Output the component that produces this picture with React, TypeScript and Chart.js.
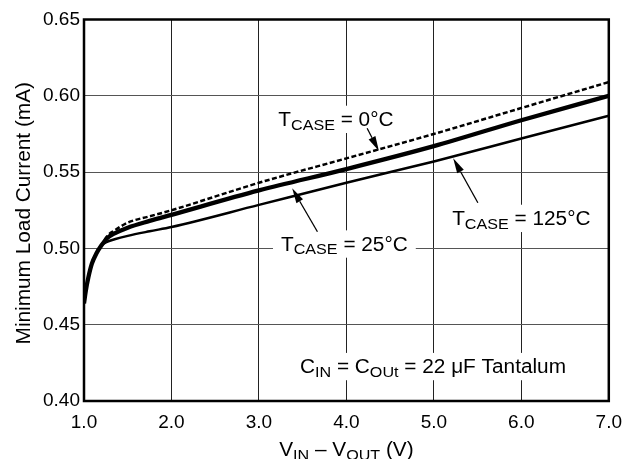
import React, { useEffect, useRef } from 'react';
import { Chart, registerables } from 'chart.js';

Chart.register(...registerables);

// ---- data ----
const xValues = [1.0, 1.02, 1.05, 1.09, 1.14, 1.2, 1.27, 1.35, 1.5, 1.75, 2.0, 3.0, 4.0, 5.0, 6.0, 7.0];
const tCase0 = [0.464, 0.472, 0.481, 0.49, 0.4965, 0.502, 0.5085, 0.5118, 0.5169, 0.521, 0.525, 0.543, 0.559, 0.575, 0.592, 0.609];
const tCase25 = [0.464, 0.472, 0.481, 0.49, 0.4965, 0.502, 0.507, 0.5098, 0.5136, 0.518, 0.522, 0.538, 0.552, 0.567, 0.584, 0.6];
const tCase125 = [0.464, 0.472, 0.481, 0.49, 0.4965, 0.502, 0.5045, 0.506, 0.5082, 0.5112, 0.514, 0.5285, 0.543, 0.557, 0.572, 0.587];

const xTicksMin = 1.0;
const xTicksMax = 7.0;
const yTicksMin = 0.4;
const yTicksMax = 0.65;

type Seg = { t: string; sub?: boolean };
const labelTexts: Seg[][] = [
  [{ t: 'T' }, { t: 'CASE', sub: true }, { t: ' = 0°C' }],
  [{ t: 'T' }, { t: 'CASE', sub: true }, { t: ' = 25°C' }],
  [{ t: 'T' }, { t: 'CASE', sub: true }, { t: ' = 125°C' }],
  [{ t: 'C' }, { t: 'IN', sub: true }, { t: ' = C' }, { t: 'OUt', sub: true }, { t: ' = 22 μF Tantalum' }],
];
// label anchors in data units (center x, baseline y)
const labelX = [3.88, 3.977, 6.0, 4.99];
const labelY = [0.5802, 0.4985, 0.5153, 0.4182];

// arrows (tail -> tip) in data units
const arrowFromX = [4.237, 3.669, 5.503];
const arrowFromY = [0.5787, 0.5109, 0.5299];
const arrowToX = [4.372, 3.38, 5.221];
const arrowToY = [0.5638, 0.5394, 0.559];

const xTitle: Seg[] = [{ t: 'V' }, { t: 'IN', sub: true }, { t: ' – V' }, { t: 'OUT', sub: true }, { t: ' (V)' }];
const yTitle = 'Minimum Load Current (mA)';

const FONT = '"Liberation Sans", Arial, Helvetica, sans-serif';
const MAIN = 20;
const SUB = 15.5;
const SX = 1.04;

function measureRich(ctx: CanvasRenderingContext2D, segs: Seg[]) {
  let w = 0;
  for (const s of segs) {
    ctx.font = `${s.sub ? SUB : MAIN}px ${FONT}`;
    w += ctx.measureText(s.t).width;
  }
  return w;
}

function drawRich(ctx: CanvasRenderingContext2D, segs: Seg[], cx: number, by: number) {
  const w = measureRich(ctx, segs);
  ctx.save();
  ctx.translate(cx, by);
  ctx.scale(SX, 1);
  ctx.fillStyle = '#000';
  ctx.textAlign = 'left';
  ctx.textBaseline = 'alphabetic';
  let x = -w / 2;
  for (const s of segs) {
    ctx.font = `${s.sub ? SUB : MAIN}px ${FONT}`;
    ctx.fillText(s.t, x, s.sub ? 3.5 : 0);
    x += ctx.measureText(s.t).width;
  }
  ctx.restore();
  return w * SX;
}

const annotationPlugin = {
  id: 'annotations',
  beforeDatasetsDraw(chart: any) {
    const ctx: CanvasRenderingContext2D = chart.ctx;
    const xs = chart.scales.x;
    const ys = chart.scales.y;
    ctx.save();
    ctx.fillStyle = '#fff';
    for (let i = 0; i < labelTexts.length; i++) {
      const cx = xs.getPixelForValue(labelX[i]);
      const by = ys.getPixelForValue(labelY[i]);
      const w = measureRich(ctx, labelTexts[i]) * SX;
      const cap = MAIN * 0.716;
      ctx.fillRect(cx - w / 2 - 8, by - cap - 6, w + 16, cap + 13);
    }
    ctx.restore();
  },
  afterDatasetsDraw(chart: any) {
    const ctx: CanvasRenderingContext2D = chart.ctx;
    const xs = chart.scales.x;
    const ys = chart.scales.y;
    const a = chart.chartArea;
    ctx.save();
    for (let i = 0; i < labelTexts.length; i++) {
      drawRich(ctx, labelTexts[i], xs.getPixelForValue(labelX[i]), ys.getPixelForValue(labelY[i]));
    }
    // arrows
    ctx.strokeStyle = '#000';
    ctx.fillStyle = '#000';
    ctx.lineWidth = 1.3;
    for (let i = 0; i < arrowFromX.length; i++) {
      const x1 = xs.getPixelForValue(arrowFromX[i]);
      const y1 = ys.getPixelForValue(arrowFromY[i]);
      const x2 = xs.getPixelForValue(arrowToX[i]);
      const y2 = ys.getPixelForValue(arrowToY[i]);
      const ang = Math.atan2(y2 - y1, x2 - x1);
      const L = 15;
      const W = 3.8;
      const bx = x2 - L * Math.cos(ang);
      const by = y2 - L * Math.sin(ang);
      ctx.beginPath();
      ctx.moveTo(x1, y1);
      ctx.lineTo(bx, by);
      ctx.stroke();
      ctx.beginPath();
      ctx.moveTo(x2, y2);
      ctx.lineTo(bx + W * Math.sin(ang), by - W * Math.cos(ang));
      ctx.lineTo(bx - W * Math.sin(ang), by + W * Math.cos(ang));
      ctx.closePath();
      ctx.fill();
    }
    // border
    ctx.lineWidth = 2.5;
    ctx.strokeRect(a.left, a.top, a.right - a.left, a.bottom - a.top);
    ctx.restore();
  },
  afterDraw(chart: any) {
    const ctx: CanvasRenderingContext2D = chart.ctx;
    const a = chart.chartArea;
    ctx.save();
    drawRich(ctx, xTitle, (a.left + a.right) / 2, 456);
    ctx.translate(30, (a.top + a.bottom) / 2 + 3);
    ctx.rotate(-Math.PI / 2);
    ctx.font = `${MAIN}px ${FONT}`;
    ctx.fillStyle = '#000';
    ctx.textAlign = 'center';
    ctx.textBaseline = 'alphabetic';
    ctx.scale(SX, 1);
    ctx.fillText(yTitle, 0, 0);
    ctx.restore();
  },
};

export default function App() {
  const ref = useRef<HTMLCanvasElement>(null);
  useEffect(() => {
    document.body.style.margin = '0';
    const toPts = (ys: number[]) => xValues.map((x, i) => ({ x, y: ys[i] }));
    const chart = new Chart(ref.current!, {
      type: 'line',
      data: {
        datasets: [
          {
            label: 'TCASE = 0°C',
            data: toPts(tCase0),
            borderColor: '#000',
            borderWidth: 2.5,
            borderDash: [5, 2.5],
            pointRadius: 0,
            cubicInterpolationMode: 'monotone',
            fill: false,
          },
          {
            label: 'TCASE = 25°C',
            data: toPts(tCase25),
            borderColor: '#000',
            borderWidth: 4.3,
            pointRadius: 0,
            cubicInterpolationMode: 'monotone',
            fill: false,
          },
          {
            label: 'TCASE = 125°C',
            data: toPts(tCase125),
            borderColor: '#000',
            borderWidth: 2.5,
            pointRadius: 0,
            cubicInterpolationMode: 'monotone',
            fill: false,
          },
        ],
      },
      options: {
        animation: false,
        responsive: false,
        devicePixelRatio: 1,
        layout: { padding: { top: 19.5, right: 16, left: 0, bottom: 0 } },
        plugins: { legend: { display: false }, tooltip: { enabled: false } },
        scales: {
          x: {
            type: 'linear',
            min: xTicksMin,
            max: xTicksMax,
            afterFit: (s: any) => {
              s.height = 58;
            },
            ticks: {
              stepSize: 1,
              padding: 10,
              color: '#000',
              font: { family: FONT, size: 19 },
              callback: (v: any) => Number(v).toFixed(1),
            },
            grid: { color: '#222', lineWidth: 1, drawTicks: false },
            border: { display: false },
          },
          y: {
            type: 'linear',
            min: yTicksMin,
            max: yTicksMax,
            afterFit: (s: any) => {
              s.width = 84;
            },
            ticks: {
              stepSize: 0.05,
              padding: 4,
              color: '#000',
              font: { family: FONT, size: 19 },
              callback: (v: any) => Number(v).toFixed(2),
            },
            grid: { color: '#555', lineWidth: 1, drawTicks: false },
            border: { display: false },
          },
        },
      },
      plugins: [annotationPlugin],
    });
    return () => chart.destroy();
  }, []);
  return (
    <div style={{ position: 'absolute', left: 0, top: 0, width: 632, height: 459 }}>
      <canvas ref={ref} width={632} height={459} />
    </div>
  );
}
